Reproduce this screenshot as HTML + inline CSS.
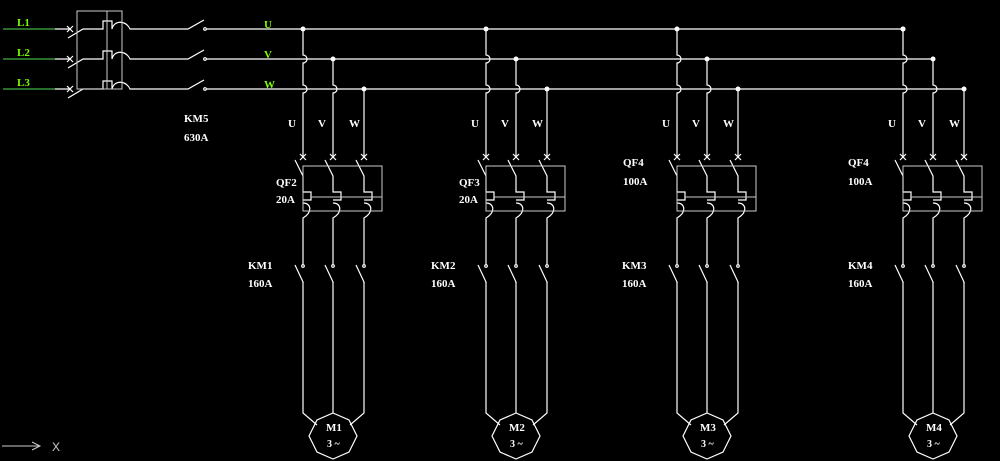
<!DOCTYPE html>
<html><head><meta charset="utf-8"><style>
html,body{margin:0;padding:0;background:#000;}
svg{display:block}
text{font-family:"Liberation Serif",serif;font-weight:bold;font-size:11px;fill:#fff}
.g{fill:#7cfc00}
</style></head><body>
<svg width="1000" height="461" viewBox="0 0 1000 461">
<defs>
<g id="colU" fill="none" stroke="#fff" stroke-width="1.2">
<path d="M0 29 V55 a4 4 0 0 1 0 8 V85 a4 4 0 0 1 0 8 V157"/>
</g>
<g id="colV" fill="none" stroke="#fff" stroke-width="1.2">
<path d="M0 59 V85 a4 4 0 0 1 0 8 V157"/>
</g>
<g id="colW" fill="none" stroke="#fff" stroke-width="1.2">
<path d="M0 89 V157"/>
</g>
<g id="pole" fill="none" stroke="#fff" stroke-width="1.2">
<path d="M-3 154 L3 160 M3 154 L-3 160"/>
<path d="M-8 160 L0 176 V192 H8 V200 H0"/>
<path d="M0 203 C8 203 10 212 0 218 V265"/>
<circle cx="0" cy="266" r="1.3"/>
<path d="M-8 265 L0 282 V283"/>
</g>
<g id="grp">
<use href="#colU" x="0"/><use href="#colV" x="30"/><use href="#colW" x="61"/>
<use href="#pole" x="0"/><use href="#pole" x="30"/><use href="#pole" x="61"/>
<circle cx="0" cy="29" r="2.5" fill="#fff"/><circle cx="30" cy="59" r="2.5" fill="#fff"/><circle cx="61" cy="89" r="2.5" fill="#fff"/>
<rect x="0" y="166" width="79" height="45" fill="none" stroke="#ccc" stroke-width="1"/>
<line x1="8" y1="197" x2="79" y2="197" stroke="#ccc" stroke-width="1"/>
<g fill="none" stroke="#fff" stroke-width="1.2">
<path d="M0 282 V413 L14 425"/>
<path d="M30 282 V413"/>
<path d="M61 282 V413 L47 425"/>
<polygon points="30,413 46,420 54,436 46,452 30,459 14,452 6,436 14,420"/>
</g>
</g>
</defs>

<!-- left incoming -->
<g stroke-width="1.2" fill="none">
<line x1="3" y1="29" x2="55" y2="29" stroke="#3cb043"/>
<line x1="3" y1="59" x2="55" y2="59" stroke="#3cb043"/>
<line x1="3" y1="89" x2="55" y2="89" stroke="#3cb043"/>
<g stroke="#fff">
<path d="M55 29 H70 M67 26 L73 32 M73 26 L67 32 M68 38 L83 29 H103 V21 H112 V29 C114 20 126 20 130 29 H188 L204 20 M206 29 H903"/>
<path d="M55 59 H70 M67 56 L73 62 M73 56 L67 62 M68 68 L83 59 H103 V51 H112 V59 C114 50 126 50 130 59 H188 L204 50 M206 59 H933"/>
<path d="M55 89 H70 M67 86 L73 92 M73 86 L67 92 M68 98 L83 89 H103 V81 H112 V89 C114 80 126 80 130 89 H188 L204 80 M206 89 H963"/>
<circle cx="205" cy="29" r="1.3"/><circle cx="205" cy="59" r="1.3"/><circle cx="205" cy="89" r="1.3"/>
</g>
<rect x="77" y="11" width="45" height="78" stroke="#ccc" stroke-width="1"/>
<line x1="107" y1="11" x2="107" y2="89" stroke="#ccc" stroke-width="1"/>
</g>
<text x="17" y="26" class="g">L1</text>
<text x="17" y="56" class="g">L2</text>
<text x="17" y="86" class="g">L3</text>
<text x="264" y="28" class="g">U</text>
<text x="264" y="58" class="g">V</text>
<text x="264" y="88" class="g">W</text>
<text x="184" y="122">KM5</text>
<text x="184" y="141">630A</text>

<use href="#grp" x="303"/>
<use href="#grp" x="486"/>
<use href="#grp" x="677"/>
<use href="#grp" x="903"/>
<circle cx="903" cy="29" r="2.5" fill="#fff"/>

<g>
<text x="288" y="127">U</text><text x="318" y="127">V</text><text x="349" y="127">W</text>
<text x="471" y="127">U</text><text x="501" y="127">V</text><text x="532" y="127">W</text>
<text x="662" y="127">U</text><text x="692" y="127">V</text><text x="723" y="127">W</text>
<text x="888" y="127">U</text><text x="918" y="127">V</text><text x="949" y="127">W</text>

<text x="276" y="186">QF2</text><text x="276" y="203">20A</text>
<text x="459" y="186">QF3</text><text x="459" y="203">20A</text>
<text x="623" y="166">QF4</text><text x="623" y="185">100A</text>
<text x="848" y="166">QF4</text><text x="848" y="185">100A</text>

<text x="248" y="269">KM1</text><text x="248" y="287">160A</text>
<text x="431" y="269">KM2</text><text x="431" y="287">160A</text>
<text x="622" y="269">KM3</text><text x="622" y="287">160A</text>
<text x="848" y="269">KM4</text><text x="848" y="287">160A</text>

<text x="326" y="431">M1</text><text x="327" y="447" style="font-size:10px">3 ~</text>
<text x="509" y="431">M2</text><text x="510" y="447" style="font-size:10px">3 ~</text>
<text x="700" y="431">M3</text><text x="701" y="447" style="font-size:10px">3 ~</text>
<text x="926" y="431">M4</text><text x="927" y="447" style="font-size:10px">3 ~</text>
</g>

<g stroke="#ccc" stroke-width="1" fill="none">
<path d="M2 446 H40 M32 442 L40 446 L32 450"/>
</g>
<text x="52" y="451" style="font-family:'Liberation Sans',sans-serif;font-weight:normal;fill:#ccc;font-size:12px">X</text>
</svg>
</body></html>
